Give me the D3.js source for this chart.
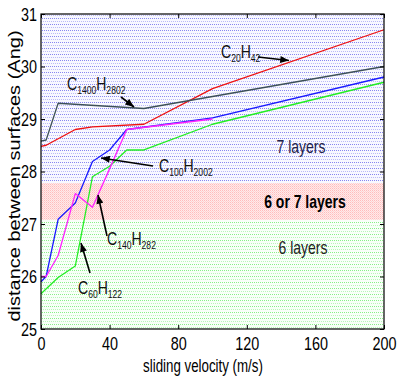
<!DOCTYPE html>
<html><head><meta charset="utf-8">
<script src="https://cdn.jsdelivr.net/npm/d3@7"></script>
<style>
html,body{margin:0;padding:0;background:#fff;}
svg text{font-family:"Liberation Sans",Arial,Helvetica,sans-serif;}
</style></head>
<body><svg id="c" width="399" height="378"></svg>
<script>
// ---- data ----
const xTicks = [0, 40, 80, 120, 160, 200];
const yTicks = [25, 26, 27, 28, 29, 30, 31];
const xLabel = "sliding velocity (m/s)";
const yLabel = "distance between surfaces (Ang)";

const c20v = [0, 3, 20, 30, 60, 100, 200];
const c20d = [28.48, 28.5, 28.8, 28.85, 28.9, 29.58, 30.7];
const c1400v = [0, 3, 10, 60, 200];
const c1400d = [28.58, 28.6, 29.3, 29.2, 30.0];
const c100v = [0, 3, 10, 20, 30, 40, 50, 100, 200];
const c100d = [25.9, 26.0, 27.09, 27.4, 28.19, 28.41, 28.8, 29.02, 29.8];
const c140v = [0, 3, 10, 20, 30, 40, 50, 100];
const c140d = [26.0, 26.0, 26.4, 27.58, 27.32, 28.05, 28.8, 29.0];
const c60v = [0, 10, 20, 30, 40, 50, 60, 100, 200];
const c60d = [25.67, 25.98, 26.2, 27.9, 28.1, 28.41, 28.41, 28.9, 29.7];

// layer regions (distance ranges)
const regionNames = ["6 layers", "6 or 7 layers", "7 layers"];
const regionLo = [25, 27.08, 27.78];
const regionHi = [27.08, 27.78, 31];

// ---- drawing ----
const svg = d3.select("#c");
const x = d3.scaleLinear().domain([0, 200]).range([41, 384]);
const y = d3.scaleLinear().domain([25, 31]).range([329, 14]);
const SX = 0.8;

const defs = svg.append("defs");
function pat(id, bg, dark, light) {
  const p = defs.append("pattern").attr("id", id).attr("patternUnits", "userSpaceOnUse")
    .attr("width", 4).attr("height", 6);
  p.append("rect").attr("width", 4).attr("height", 6).attr("fill", bg);
  [[0,0,dark],[2,0,dark],[1,3,light],[3,3,light]].forEach(([a,b,c]) =>
    p.append("rect").attr("x", a).attr("y", b).attr("width", 1).attr("height", 1).attr("fill", c));
}
pat("pg", "#f8fff8", "#88f088", "#b8f7b8");
pat("pb", "#f8f8ff", "#8888f0", "#bbbbf6");
// red: denser checker
const pr = defs.append("pattern").attr("id", "pr").attr("patternUnits", "userSpaceOnUse")
  .attr("width", 2).attr("height", 2);
pr.append("rect").attr("width", 2).attr("height", 2).attr("fill", "#ffeaea");
pr.append("rect").attr("width", 1).attr("height", 1).attr("fill", "#ffbcbc");
pr.append("rect").attr("x", 1).attr("y", 1).attr("width", 1).attr("height", 1).attr("fill", "#ffd2d2");
const patIds = ["pg", "pr", "pb"];

svg.append("g").selectAll("rect").data(regionNames).join("rect")
  .attr("x", x(0)).attr("width", x(200) - x(0))
  .attr("y", (d, i) => y(regionHi[i]))
  .attr("height", (d, i) => y(regionLo[i]) - y(regionHi[i]))
  .attr("fill", (d, i) => `url(#${patIds[i]})`);

// region labels
const regionLabelX = [303, 305, 301];
const regionLabelY = [253.5, 207.5, 153];
const regionFill = ["#222", "#000", "#22224a"];
regionNames.forEach((n, i) => {
  svg.append("text")
    .attr("transform", `translate(${regionLabelX[i]},${regionLabelY[i]}) scale(${SX},1)`)
    .attr("text-anchor", "middle").attr("font-size", 17.5)
    .attr("fill", regionFill[i])
    .attr("font-weight", i === 1 ? "bold" : "normal")
    .text(n);
});

// series
const series = [
  {v: c60v, d: c60d, color: "#22ee22"},
  {v: c100v, d: c100d, color: "#1a1aff"},
  {v: c140v, d: c140d, color: "#ff22ff"},
  {v: c20v, d: c20d, color: "#ee1111"},
  {v: c1400v, d: c1400d, color: "#3d5058"},
];
const line = d3.line().x(p => x(p[0])).y(p => y(p[1]));
svg.append("g").selectAll("path").data(series).join("path")
  .attr("d", s => line(s.v.map((v, i) => [v, s.d[i]])))
  .attr("fill", "none").attr("stroke", s => s.color).attr("stroke-width", 1.3)
  .attr("stroke-linejoin", "round");

// axes
const fmt = d3.format("d");
const gB = svg.append("g").attr("transform", `translate(0,${y(25)})`)
  .call(d3.axisBottom(x).tickValues(xTicks).tickSizeInner(-4).tickSizeOuter(0).tickPadding(8.5).tickFormat(fmt));
const gT = svg.append("g").attr("transform", `translate(0,${y(31)})`)
  .call(d3.axisTop(x).tickValues(xTicks).tickSizeInner(-4).tickSizeOuter(0).tickFormat(""));
const gL = svg.append("g").attr("transform", `translate(${x(0)},0)`)
  .call(d3.axisLeft(y).tickValues(yTicks).tickSizeInner(-4).tickSizeOuter(0).tickPadding(5).tickFormat(fmt));
const gR = svg.append("g").attr("transform", `translate(${x(200)},0)`)
  .call(d3.axisRight(y).tickValues(yTicks).tickSizeInner(-4).tickSizeOuter(0).tickFormat(""));
[gB, gT, gL, gR].forEach(g => {
  g.select(".domain").remove();
  g.selectAll("line").attr("stroke", "#000");
  g.selectAll("text").attr("font-size", 18).attr("fill", "#000")
    .attr("font-family", "Liberation Sans, Arial, sans-serif")
    .attr("transform", `scale(0.8,1)`);
});
gL.selectAll("text").attr("dy", "0.36em");

svg.append("rect").attr("x", x(0)).attr("y", y(31))
  .attr("width", x(200) - x(0)).attr("height", y(25) - y(31))
  .attr("fill", "none").attr("stroke", "#000").attr("stroke-width", 1.2);

// axis labels
svg.append("text").attr("transform", `translate(203,372) scale(0.72,1)`)
  .attr("text-anchor", "middle").attr("font-size", 18.5).text(xLabel);
svg.append("text").attr("transform", `translate(20,176) scale(0.85,1) rotate(-90)`)
  .attr("text-anchor", "middle").attr("font-size", 20).text(yLabel);

// compound labels with arrows
defs.append("marker").attr("id", "ah").attr("markerUnits", "userSpaceOnUse")
  .attr("viewBox", "0 0 10 8").attr("refX", 10).attr("refY", 4)
  .attr("markerWidth", 10).attr("markerHeight", 7).attr("orient", "auto")
  .append("path").attr("d", "M0,0L10,4L0,8Z").attr("fill", "#000");

const labC = ["20", "1400", "100", "140", "60"];
const labH = ["42", "2802", "2002", "282", "122"];
const labX = [221, 67, 159, 107, 78];
const labY = [57.5, 90, 172, 245, 293.5];
const arrTail = [[258, 57], [121, 97], [153, 166], [107, 236], [90, 273]];
const arrHead = [[289, 60.5], [134, 107], [101, 158], [98, 195], [81, 243]];

labC.forEach((c, i) => {
  const t = svg.append("text")
    .attr("transform", `translate(${labX[i]},${labY[i]}) scale(0.78,1)`)
    .attr("font-size", 18).attr("fill", "#111");
  t.append("tspan").text("C");
  t.append("tspan").attr("font-size", 11).attr("dy", 4).text(c);
  t.append("tspan").attr("dy", -4).text("H");
  t.append("tspan").attr("font-size", 11).attr("dy", 4).text(labH[i]);
  svg.append("line")
    .attr("x1", arrTail[i][0]).attr("y1", arrTail[i][1])
    .attr("x2", arrHead[i][0]).attr("y2", arrHead[i][1])
    .attr("stroke", "#000").attr("stroke-width", 1.6).attr("marker-end", "url(#ah)");
});
</script></body></html>
